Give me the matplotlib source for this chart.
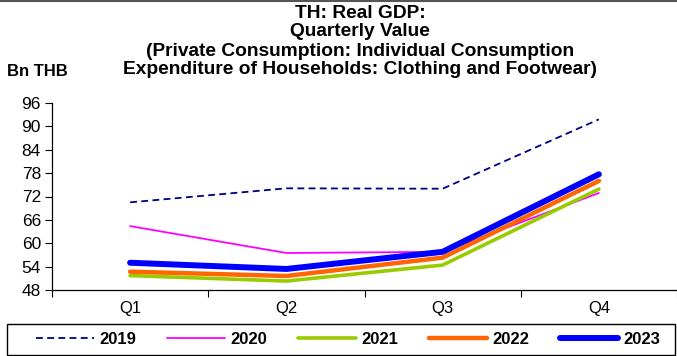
import matplotlib
matplotlib.use("Agg")
import matplotlib.pyplot as plt
from matplotlib.lines import Line2D
from matplotlib.patches import Rectangle

quarters = ["Q1", "Q2", "Q3", "Q4"]
years = ["2019", "2020", "2021", "2022", "2023"]
v2019 = [70.5, 74.1, 74.0, 91.8]
v2020 = [64.4, 57.5, 57.8, 72.9]
v2021 = [51.7, 50.3, 54.4, 73.9]
v2022 = [52.7, 51.6, 56.3, 76.0]
v2023 = [55.0, 53.4, 57.8, 77.7]
yticks = [48, 54, 60, 66, 72, 78, 84, 90, 96]

series = [v2019, v2020, v2021, v2022, v2023]
colors = ["#000080", "#FF00FF", "#99CC00", "#FF6600", "#0000FF"]
widths = [1.3, 1.3, 2.6, 3.2, 4.3]
styles = [(0, (3.8, 2.4)), "-", "-", "-", "-"]

plt.rcParams["font.family"] = ["Liberation Sans", "DejaVu Sans"]

fig = plt.figure(figsize=(6.77, 3.56), dpi=100)
W, H = 677, 356
ax = fig.add_axes([52 / W, 1 - 290 / H, (677 - 52) / W, (290 - 103) / H])

x = list(range(len(quarters)))
for vals, c, lw, ls, yr in zip(series, colors, widths, styles, years):
    ax.plot(x, vals, color=c, lw=lw, ls=ls, solid_capstyle="round",
            dash_capstyle="butt", label=yr)

ax.set_xlim(-0.5, 3.5)
ax.set_ylim(48, 96)
ax.set_yticks(yticks)
ax.set_yticklabels([str(t) for t in yticks], fontsize=12.5)
ax.set_xticks([-0.5, 0.5, 1.5, 2.5, 3.5])
ax.set_xticklabels([])
ax.set_xticks(x, minor=True)
ax.set_xticklabels(quarters, minor=True, fontsize=12)
ax.tick_params(axis="x", which="minor", length=0, pad=8)
ax.tick_params(axis="x", which="major", length=5, direction="out", width=0.8)
ax.tick_params(axis="y", length=5, direction="out", width=0.8, pad=3)
for s in ["top", "right"]:
    ax.spines[s].set_visible(False)
for s in ["left", "bottom"]:
    ax.spines[s].set_linewidth(0.9)

title_lines = ["TH: Real GDP:", "Quarterly Value",
               "(Private Consumption: Individual Consumption",
               "Expenditure of Households: Clothing and Footwear)"]
centers = [13, 32, 51, 70]
for t, cy in zip(title_lines, centers):
    fig.text(360 / W, 1 - cy / H, t, ha="center", va="center",
             fontsize=13.8, fontweight="bold")
fig.text(7 / W, 1 - 71 / H, "Bn THB", ha="left", va="center",
         fontsize=12, fontweight="bold")

# top border line
fig.add_artist(Line2D([0, 1], [1 - 0.5 / H, 1 - 0.5 / H], color="#555555", lw=1.5))

# legend box
fig.add_artist(Rectangle((7 / W, 1 - 355 / H), 668 / W, 31 / H,
                         transform=fig.transFigure, fill=False,
                         edgecolor="black", lw=1.0))

handles, labels = ax.get_legend_handles_labels()
leg = fig.legend(handles, labels, loc="center", ncol=5,
                 bbox_to_anchor=(348 / W, 1 - 339.5 / H),
                 frameon=False, handlelength=3.5,
                 handletextpad=0.3, columnspacing=1.85, borderaxespad=0,
                 prop={"weight": "bold", "size": 12})

fig.savefig("out.png", dpi=100)
